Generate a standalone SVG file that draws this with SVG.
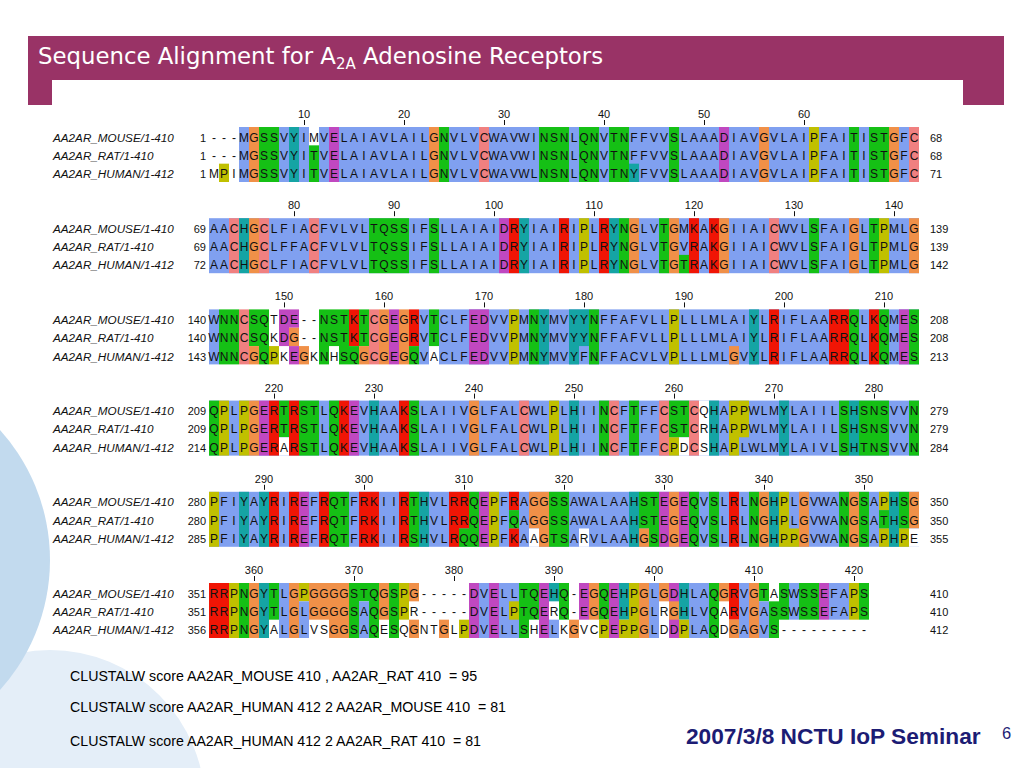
<svg xmlns="http://www.w3.org/2000/svg" width="1024" height="768" viewBox="0 0 1024 768">
<style>
.B{fill:#80a0f0}.R{fill:#f01505}.M{fill:#c048c0}.G{fill:#15c015}.P{fill:#f08080}.O{fill:#f09048}.Y{fill:#c0c000}.C{fill:#15a4a4}.W{fill:#ffffff}
.seq{font-family:"Liberation Sans",Arial,sans-serif;font-size:12px;fill:#111;text-anchor:middle}
.lab{font-family:"Liberation Sans",Arial,sans-serif;font-size:11.7px;font-style:italic;fill:#111}
.sn{font-family:"Liberation Sans",Arial,sans-serif;font-size:11px;fill:#111;text-anchor:end}
.en{font-family:"Liberation Sans",Arial,sans-serif;font-size:11px;fill:#111}
.rn{font-family:"Liberation Sans",Arial,sans-serif;font-size:11px;fill:#111;text-anchor:middle}
.tk{stroke:#111;stroke-width:1;fill:none}
.ft{font-family:"Liberation Sans",Arial,sans-serif;font-size:14.2px;fill:#000;white-space:pre}
</style>
<rect x="0" y="0" width="1024" height="768" fill="#ffffff"/>
<g id="decor">
<circle cx="50" cy="805" r="155" fill="#e4eef8"/>
<circle cx="-144" cy="560" r="194" fill="#c2daee"/>
</g>
<g id="header">
<rect x="28" y="36" width="976" height="69" fill="#993366"/>
<text x="38" y="64" font-family="DejaVu Sans, sans-serif" font-size="22.8" fill="#ffffff">Sequence Alignment for A<tspan font-size="15" dy="5">2A</tspan><tspan dy="-5"> Adenosine Receptors</tspan></text>
</g>
<rect id="panel" x="52" y="80" width="911" height="566" fill="#ffffff"/>

<g id="block1" transform="translate(0,127)">
<rect class="B" x="239" y="0" width="680" height="55"/>
<rect class="O" x="249" y="0" width="10" height="55"/><rect class="G" x="259" y="0" width="20" height="55"/><rect class="C" x="289" y="0" width="10" height="55"/><rect class="G" x="309" y="0" width="10" height="55"/><rect class="M" x="329" y="0" width="10" height="55"/><rect class="O" x="429" y="0" width="10" height="55"/><rect class="G" x="439" y="0" width="10" height="55"/><rect class="P" x="479" y="0" width="10" height="55"/><rect class="G" x="539" y="0" width="30" height="55"/><rect class="G" x="579" y="0" width="20" height="55"/><rect class="G" x="609" y="0" width="20" height="55"/><rect class="G" x="669" y="0" width="10" height="55"/><rect class="M" x="719" y="0" width="10" height="55"/><rect class="O" x="759" y="0" width="10" height="55"/><rect class="Y" x="809" y="0" width="10" height="55"/><rect class="G" x="849" y="0" width="10" height="55"/><rect class="G" x="869" y="0" width="20" height="55"/><rect class="O" x="889" y="0" width="10" height="55"/><rect class="P" x="909" y="0" width="10" height="55"/>
<rect class="W" x="309" y="0" width="10" height="18.33"/><rect class="Y" x="219" y="36.67" width="10" height="18.33"/><rect class="C" x="629" y="36.67" width="10" height="18.33"/>
<path class="tk" d="M304.5 -7v5M404.5 -7v5M504.5 -7v5M604.5 -7v5M704.5 -7v5M804.5 -7v5"/>
<text class="rn" y="-9"><tspan x="304">10</tspan><tspan x="404">20</tspan><tspan x="504">30</tspan><tspan x="604">40</tspan><tspan x="704">50</tspan><tspan x="804">60</tspan></text>
<text class="lab" x="53" y="14.5">AA2AR_MOUSE/1-410</text><text class="lab" x="53" y="32.8">AA2AR_RAT/1-410</text><text class="lab" x="53" y="51.2">AA2AR_HUMAN/1-412</text>
<text class="sn" x="206" y="14.5">1</text><text class="sn" x="206" y="32.8">1</text><text class="sn" x="206" y="51.2">1</text>
<text class="en" x="930" y="14.5">68</text><text class="en" x="930" y="32.8">68</text><text class="en" x="930" y="51.2">71</text>
<text class="seq" y="14.5" x="214 224 234 244 254 264 274 284 294 304 314 324 334 344 354 364 374 384 394 404 414 424 434 444 454 464 474 484 494 504 514 524 534 544 554 564 574 584 594 604 614 624 634 644 654 664 674 684 694 704 714 724 734 744 754 764 774 784 794 804 814 824 834 844 854 864 874 884 894 904 914">---MGSSVYIMVELAIAVLAILGNVLVCWAVWINSNLQNVTNFFVVSLAAADIAVGVLAIPFAITISTGFC</text>
<text class="seq" y="32.8" x="214 224 234 244 254 264 274 284 294 304 314 324 334 344 354 364 374 384 394 404 414 424 434 444 454 464 474 484 494 504 514 524 534 544 554 564 574 584 594 604 614 624 634 644 654 664 674 684 694 704 714 724 734 744 754 764 774 784 794 804 814 824 834 844 854 864 874 884 894 904 914">---MGSSVYITVELAIAVLAILGNVLVCWAVWINSNLQNVTNFFVVSLAAADIAVGVLAIPFAITISTGFC</text>
<text class="seq" y="51.2" x="214 224 234 244 254 264 274 284 294 304 314 324 334 344 354 364 374 384 394 404 414 424 434 444 454 464 474 484 494 504 514 524 534 544 554 564 574 584 594 604 614 624 634 644 654 664 674 684 694 704 714 724 734 744 754 764 774 784 794 804 814 824 834 844 854 864 874 884 894 904 914">MPIMGSSVYITVELAIAVLAILGNVLVCWAVWLNSNLQNVTNYFVVSLAAADIAVGVLAIPFAITISTGFC</text>
</g>

<g id="block2" transform="translate(0,218.2)">
<rect class="B" x="209" y="0" width="710" height="55"/>
<rect class="P" x="229" y="0" width="10" height="55"/><rect class="C" x="239" y="0" width="10" height="55"/><rect class="O" x="249" y="0" width="10" height="55"/><rect class="P" x="259" y="0" width="10" height="55"/><rect class="P" x="309" y="0" width="10" height="55"/><rect class="G" x="369" y="0" width="40" height="55"/><rect class="G" x="429" y="0" width="10" height="55"/><rect class="M" x="499" y="0" width="10" height="55"/><rect class="R" x="509" y="0" width="10" height="55"/><rect class="C" x="519" y="0" width="10" height="55"/><rect class="R" x="559" y="0" width="10" height="55"/><rect class="Y" x="579" y="0" width="10" height="55"/><rect class="R" x="599" y="0" width="10" height="55"/><rect class="C" x="609" y="0" width="10" height="55"/><rect class="G" x="619" y="0" width="10" height="55"/><rect class="O" x="629" y="0" width="10" height="55"/><rect class="G" x="659" y="0" width="10" height="55"/><rect class="O" x="669" y="0" width="10" height="55"/><rect class="R" x="689" y="0" width="10" height="55"/><rect class="R" x="709" y="0" width="10" height="55"/><rect class="O" x="719" y="0" width="10" height="55"/><rect class="P" x="769" y="0" width="10" height="55"/><rect class="G" x="809" y="0" width="10" height="55"/><rect class="O" x="849" y="0" width="10" height="55"/><rect class="G" x="869" y="0" width="10" height="55"/><rect class="Y" x="879" y="0" width="10" height="55"/><rect class="O" x="909" y="0" width="10" height="55"/>
<rect class="G" x="679" y="36.67" width="10" height="18.33"/>
<path class="tk" d="M294.5 -7v5M394.5 -7v5M494.5 -7v5M594.5 -7v5M694.5 -7v5M794.5 -7v5M894.5 -7v5"/>
<text class="rn" y="-9"><tspan x="294">80</tspan><tspan x="394">90</tspan><tspan x="494">100</tspan><tspan x="594">110</tspan><tspan x="694">120</tspan><tspan x="794">130</tspan><tspan x="894">140</tspan></text>
<text class="lab" x="53" y="14.5">AA2AR_MOUSE/1-410</text><text class="lab" x="53" y="32.8">AA2AR_RAT/1-410</text><text class="lab" x="53" y="51.2">AA2AR_HUMAN/1-412</text>
<text class="sn" x="206" y="14.5">69</text><text class="sn" x="206" y="32.8">69</text><text class="sn" x="206" y="51.2">72</text>
<text class="en" x="930" y="14.5">139</text><text class="en" x="930" y="32.8">139</text><text class="en" x="930" y="51.2">142</text>
<text class="seq" y="14.5" x="214 224 234 244 254 264 274 284 294 304 314 324 334 344 354 364 374 384 394 404 414 424 434 444 454 464 474 484 494 504 514 524 534 544 554 564 574 584 594 604 614 624 634 644 654 664 674 684 694 704 714 724 734 744 754 764 774 784 794 804 814 824 834 844 854 864 874 884 894 904 914">AACHGCLFIACFVLVLTQSSIFSLLAIAIDRYIAIRIPLRYNGLVTGMKAKGIIAICWVLSFAIGLTPMLG</text>
<text class="seq" y="32.8" x="214 224 234 244 254 264 274 284 294 304 314 324 334 344 354 364 374 384 394 404 414 424 434 444 454 464 474 484 494 504 514 524 534 544 554 564 574 584 594 604 614 624 634 644 654 664 674 684 694 704 714 724 734 744 754 764 774 784 794 804 814 824 834 844 854 864 874 884 894 904 914">AACHGCLFFACFVLVLTQSSIFSLLAIAIDRYIAIRIPLRYNGLVTGVRAKGIIAICWVLSFAIGLTPMLG</text>
<text class="seq" y="51.2" x="214 224 234 244 254 264 274 284 294 304 314 324 334 344 354 364 374 384 394 404 414 424 434 444 454 464 474 484 494 504 514 524 534 544 554 564 574 584 594 604 614 624 634 644 654 664 674 684 694 704 714 724 734 744 754 764 774 784 794 804 814 824 834 844 854 864 874 884 894 904 914">AACHGCLFIACFVLVLTQSSIFSLLAIAIDRYIAIRIPLRYNGLVTGTRAKGIIAICWVLSFAIGLTPMLG</text>
</g>

<g id="block3" transform="translate(0,309.4)">
<rect class="B" x="209" y="0" width="10" height="55"/><rect class="B" x="419" y="0" width="10" height="55"/><rect class="B" x="439" y="0" width="480" height="55"/>
<rect class="G" x="219" y="0" width="20" height="55"/><rect class="P" x="239" y="0" width="10" height="55"/><rect class="G" x="259" y="0" width="10" height="55"/><rect class="G" x="319" y="0" width="10" height="55"/><rect class="G" x="339" y="0" width="10" height="55"/><rect class="P" x="369" y="0" width="10" height="55"/><rect class="O" x="379" y="0" width="10" height="55"/><rect class="M" x="389" y="0" width="10" height="55"/><rect class="O" x="399" y="0" width="10" height="55"/><rect class="M" x="469" y="0" width="20" height="55"/><rect class="Y" x="509" y="0" width="10" height="55"/><rect class="G" x="529" y="0" width="10" height="55"/><rect class="C" x="539" y="0" width="10" height="55"/><rect class="C" x="569" y="0" width="10" height="55"/><rect class="G" x="589" y="0" width="10" height="55"/><rect class="Y" x="669" y="0" width="10" height="55"/><rect class="C" x="749" y="0" width="10" height="55"/><rect class="R" x="769" y="0" width="10" height="55"/><rect class="R" x="829" y="0" width="20" height="55"/><rect class="G" x="849" y="0" width="10" height="55"/><rect class="R" x="869" y="0" width="10" height="55"/><rect class="G" x="879" y="0" width="10" height="55"/><rect class="M" x="899" y="0" width="10" height="55"/><rect class="G" x="909" y="0" width="10" height="55"/>
<rect class="G" x="249" y="0" width="10" height="36.67"/><rect class="O" x="249" y="36.67" width="10" height="18.33"/>
<rect class="Y" x="269" y="36.67" width="10" height="18.33"/>
<rect class="M" x="279" y="0" width="10" height="36.67"/>
<rect class="M" x="289" y="0" width="10" height="18.33"/><rect class="O" x="289" y="18.33" width="10" height="18.34"/><rect class="M" x="289" y="36.67" width="10" height="18.33"/>
<rect class="O" x="299" y="36.67" width="10" height="18.33"/>
<rect class="G" x="329" y="0" width="10" height="36.67"/>
<rect class="R" x="349" y="0" width="10" height="36.67"/><rect class="G" x="349" y="36.67" width="10" height="18.33"/>
<rect class="G" x="359" y="0" width="10" height="36.67"/><rect class="O" x="359" y="36.67" width="10" height="18.33"/>
<rect class="R" x="409" y="0" width="10" height="36.67"/><rect class="G" x="409" y="36.67" width="10" height="18.33"/>
<rect class="G" x="429" y="0" width="10" height="36.67"/>
<rect class="C" x="579" y="0" width="10" height="36.67"/>
<rect class="O" x="729" y="36.67" width="10" height="18.33"/>
<path class="tk" d="M284.5 -7v5M384.5 -7v5M484.5 -7v5M584.5 -7v5M684.5 -7v5M784.5 -7v5M884.5 -7v5"/>
<text class="rn" y="-9"><tspan x="284">150</tspan><tspan x="384">160</tspan><tspan x="484">170</tspan><tspan x="584">180</tspan><tspan x="684">190</tspan><tspan x="784">200</tspan><tspan x="884">210</tspan></text>
<text class="lab" x="53" y="14.5">AA2AR_MOUSE/1-410</text><text class="lab" x="53" y="32.8">AA2AR_RAT/1-410</text><text class="lab" x="53" y="51.2">AA2AR_HUMAN/1-412</text>
<text class="sn" x="206" y="14.5">140</text><text class="sn" x="206" y="32.8">140</text><text class="sn" x="206" y="51.2">143</text>
<text class="en" x="930" y="14.5">208</text><text class="en" x="930" y="32.8">208</text><text class="en" x="930" y="51.2">213</text>
<text class="seq" y="14.5" x="214 224 234 244 254 264 274 284 294 304 314 324 334 344 354 364 374 384 394 404 414 424 434 444 454 464 474 484 494 504 514 524 534 544 554 564 574 584 594 604 614 624 634 644 654 664 674 684 694 704 714 724 734 744 754 764 774 784 794 804 814 824 834 844 854 864 874 884 894 904 914">WNNCSQTDE--NSTKTCGEGRVTCLFEDVVPMNYMVYYNFFAFVLLPLLLMLAIYLRIFLAARRQLKQMES</text>
<text class="seq" y="32.8" x="214 224 234 244 254 264 274 284 294 304 314 324 334 344 354 364 374 384 394 404 414 424 434 444 454 464 474 484 494 504 514 524 534 544 554 564 574 584 594 604 614 624 634 644 654 664 674 684 694 704 714 724 734 744 754 764 774 784 794 804 814 824 834 844 854 864 874 884 894 904 914">WNNCSQKDG--NSTKTCGEGRVTCLFEDVVPMNYMVYYNFFAFVLLPLLLMLAIYLRIFLAARRQLKQMES</text>
<text class="seq" y="51.2" x="214 224 234 244 254 264 274 284 294 304 314 324 334 344 354 364 374 384 394 404 414 424 434 444 454 464 474 484 494 504 514 524 534 544 554 564 574 584 594 604 614 624 634 644 654 664 674 684 694 704 714 724 734 744 754 764 774 784 794 804 814 824 834 844 854 864 874 884 894 904 914">WNNCGQPKEGKNHSQGCGEGQVACLFEDVVPMNYMVYFNFFACVLVPLLLMLGVYLRIFLAARRQLKQMES</text>
</g>

<g id="block4" transform="translate(0,400.6)">
<rect class="B" x="209" y="0" width="710" height="55"/>
<rect class="G" x="209" y="0" width="10" height="55"/><rect class="Y" x="219" y="0" width="10" height="55"/><rect class="Y" x="239" y="0" width="10" height="55"/><rect class="O" x="249" y="0" width="10" height="55"/><rect class="M" x="259" y="0" width="10" height="55"/><rect class="R" x="269" y="0" width="10" height="55"/><rect class="R" x="289" y="0" width="10" height="55"/><rect class="G" x="299" y="0" width="20" height="55"/><rect class="G" x="329" y="0" width="10" height="55"/><rect class="R" x="339" y="0" width="10" height="55"/><rect class="M" x="349" y="0" width="10" height="55"/><rect class="C" x="369" y="0" width="10" height="55"/><rect class="R" x="399" y="0" width="10" height="55"/><rect class="G" x="409" y="0" width="10" height="55"/><rect class="O" x="469" y="0" width="10" height="55"/><rect class="P" x="519" y="0" width="10" height="55"/><rect class="Y" x="549" y="0" width="10" height="55"/><rect class="C" x="569" y="0" width="10" height="55"/><rect class="G" x="599" y="0" width="10" height="55"/><rect class="P" x="609" y="0" width="10" height="55"/><rect class="G" x="629" y="0" width="10" height="55"/><rect class="P" x="659" y="0" width="10" height="55"/><rect class="P" x="689" y="0" width="10" height="55"/><rect class="W" x="699" y="0" width="10" height="55"/><rect class="C" x="709" y="0" width="10" height="55"/><rect class="Y" x="729" y="0" width="10" height="55"/><rect class="C" x="779" y="0" width="10" height="55"/><rect class="G" x="839" y="0" width="10" height="55"/><rect class="C" x="849" y="0" width="10" height="55"/><rect class="G" x="859" y="0" width="30" height="55"/><rect class="G" x="909" y="0" width="10" height="55"/>
<rect class="G" x="279" y="0" width="10" height="36.67"/><rect class="W" x="279" y="36.67" width="10" height="18.33"/>
<rect class="G" x="669" y="0" width="10" height="36.67"/><rect class="Y" x="669" y="36.67" width="10" height="18.33"/>
<rect class="G" x="679" y="0" width="10" height="36.67"/><rect class="W" x="679" y="36.67" width="10" height="18.33"/>
<rect class="Y" x="739" y="0" width="10" height="36.67"/>
<path class="tk" d="M274.5 -7v5M374.5 -7v5M474.5 -7v5M574.5 -7v5M674.5 -7v5M774.5 -7v5M874.5 -7v5"/>
<text class="rn" y="-9"><tspan x="274">220</tspan><tspan x="374">230</tspan><tspan x="474">240</tspan><tspan x="574">250</tspan><tspan x="674">260</tspan><tspan x="774">270</tspan><tspan x="874">280</tspan></text>
<text class="lab" x="53" y="14.5">AA2AR_MOUSE/1-410</text><text class="lab" x="53" y="32.8">AA2AR_RAT/1-410</text><text class="lab" x="53" y="51.2">AA2AR_HUMAN/1-412</text>
<text class="sn" x="206" y="14.5">209</text><text class="sn" x="206" y="32.8">209</text><text class="sn" x="206" y="51.2">214</text>
<text class="en" x="930" y="14.5">279</text><text class="en" x="930" y="32.8">279</text><text class="en" x="930" y="51.2">284</text>
<text class="seq" y="14.5" x="214 224 234 244 254 264 274 284 294 304 314 324 334 344 354 364 374 384 394 404 414 424 434 444 454 464 474 484 494 504 514 524 534 544 554 564 574 584 594 604 614 624 634 644 654 664 674 684 694 704 714 724 734 744 754 764 774 784 794 804 814 824 834 844 854 864 874 884 894 904 914">QPLPGERTRSTLQKEVHAAKSLAIIVGLFALCWLPLHIINCFTFFCSTCQHAPPWLMYLAIILSHSNSVVN</text>
<text class="seq" y="32.8" x="214 224 234 244 254 264 274 284 294 304 314 324 334 344 354 364 374 384 394 404 414 424 434 444 454 464 474 484 494 504 514 524 534 544 554 564 574 584 594 604 614 624 634 644 654 664 674 684 694 704 714 724 734 744 754 764 774 784 794 804 814 824 834 844 854 864 874 884 894 904 914">QPLPGERTRSTLQKEVHAAKSLAIIVGLFALCWLPLHIINCFTFFCSTCRHAPPWLMYLAIILSHSNSVVN</text>
<text class="seq" y="51.2" x="214 224 234 244 254 264 274 284 294 304 314 324 334 344 354 364 374 384 394 404 414 424 434 444 454 464 474 484 494 504 514 524 534 544 554 564 574 584 594 604 614 624 634 644 654 664 674 684 694 704 714 724 734 744 754 764 774 784 794 804 814 824 834 844 854 864 874 884 894 904 914">QPLPGERARSTLQKEVHAAKSLAIIVGLFALCWLPLHIINCFTFFCPDCSHAPLWLMYLAIVLSHTNSVVN</text>
</g>

<g id="block5" transform="translate(0,491.8)">
<rect class="B" x="209" y="0" width="710" height="55"/>
<rect class="Y" x="209" y="0" width="10" height="55"/><rect class="C" x="239" y="0" width="10" height="55"/><rect class="C" x="259" y="0" width="10" height="55"/><rect class="R" x="269" y="0" width="10" height="55"/><rect class="R" x="289" y="0" width="10" height="55"/><rect class="M" x="299" y="0" width="10" height="55"/><rect class="R" x="319" y="0" width="10" height="55"/><rect class="G" x="329" y="0" width="20" height="55"/><rect class="R" x="359" y="0" width="20" height="55"/><rect class="R" x="399" y="0" width="10" height="55"/><rect class="G" x="409" y="0" width="10" height="55"/><rect class="C" x="419" y="0" width="10" height="55"/><rect class="R" x="449" y="0" width="10" height="55"/><rect class="G" x="469" y="0" width="10" height="55"/><rect class="M" x="479" y="0" width="10" height="55"/><rect class="Y" x="489" y="0" width="10" height="55"/><rect class="O" x="539" y="0" width="10" height="55"/><rect class="G" x="549" y="0" width="20" height="55"/><rect class="C" x="629" y="0" width="10" height="55"/><rect class="G" x="649" y="0" width="10" height="55"/><rect class="M" x="659" y="0" width="10" height="55"/><rect class="O" x="669" y="0" width="10" height="55"/><rect class="M" x="679" y="0" width="10" height="55"/><rect class="G" x="689" y="0" width="10" height="55"/><rect class="G" x="709" y="0" width="10" height="55"/><rect class="R" x="729" y="0" width="10" height="55"/><rect class="G" x="749" y="0" width="10" height="55"/><rect class="O" x="759" y="0" width="10" height="55"/><rect class="C" x="769" y="0" width="10" height="55"/><rect class="Y" x="779" y="0" width="10" height="55"/><rect class="O" x="799" y="0" width="10" height="55"/><rect class="G" x="839" y="0" width="10" height="55"/><rect class="O" x="849" y="0" width="10" height="55"/><rect class="G" x="859" y="0" width="10" height="55"/><rect class="C" x="889" y="0" width="10" height="55"/>
<rect class="R" x="459" y="0" width="10" height="36.67"/><rect class="G" x="459" y="36.67" width="10" height="18.33"/>
<rect class="R" x="509" y="0" width="10" height="18.33"/><rect class="G" x="509" y="18.33" width="10" height="18.34"/><rect class="R" x="509" y="36.67" width="10" height="18.33"/>
<rect class="O" x="529" y="0" width="10" height="36.67"/><rect class="W" x="529" y="36.67" width="10" height="18.33"/>
<rect class="W" x="579" y="36.67" width="10" height="18.33"/>
<rect class="G" x="639" y="0" width="10" height="36.67"/><rect class="O" x="639" y="36.67" width="10" height="18.33"/>
<rect class="Y" x="789" y="36.67" width="10" height="18.33"/>
<rect class="Y" x="879" y="0" width="10" height="18.33"/><rect class="G" x="879" y="18.33" width="10" height="18.34"/><rect class="Y" x="879" y="36.67" width="10" height="18.33"/>
<rect class="G" x="899" y="0" width="10" height="36.67"/><rect class="Y" x="899" y="36.67" width="10" height="18.33"/>
<rect class="O" x="909" y="0" width="10" height="36.67"/><rect class="W" x="909" y="36.67" width="10" height="18.33"/>
<path class="tk" d="M264.5 -7v5M364.5 -7v5M464.5 -7v5M564.5 -7v5M664.5 -7v5M764.5 -7v5M864.5 -7v5"/>
<text class="rn" y="-9"><tspan x="264">290</tspan><tspan x="364">300</tspan><tspan x="464">310</tspan><tspan x="564">320</tspan><tspan x="664">330</tspan><tspan x="764">340</tspan><tspan x="864">350</tspan></text>
<text class="lab" x="53" y="14.5">AA2AR_MOUSE/1-410</text><text class="lab" x="53" y="32.8">AA2AR_RAT/1-410</text><text class="lab" x="53" y="51.2">AA2AR_HUMAN/1-412</text>
<text class="sn" x="206" y="14.5">280</text><text class="sn" x="206" y="32.8">280</text><text class="sn" x="206" y="51.2">285</text>
<text class="en" x="930" y="14.5">350</text><text class="en" x="930" y="32.8">350</text><text class="en" x="930" y="51.2">355</text>
<text class="seq" y="14.5" x="214 224 234 244 254 264 274 284 294 304 314 324 334 344 354 364 374 384 394 404 414 424 434 444 454 464 474 484 494 504 514 524 534 544 554 564 574 584 594 604 614 624 634 644 654 664 674 684 694 704 714 724 734 744 754 764 774 784 794 804 814 824 834 844 854 864 874 884 894 904 914">PFIYAYRIREFRQTFRKIIRTHVLRRQEPFRAGGSSAWALAAHSTEGEQVSLRLNGHPLGVWANGSAPHSG</text>
<text class="seq" y="32.8" x="214 224 234 244 254 264 274 284 294 304 314 324 334 344 354 364 374 384 394 404 414 424 434 444 454 464 474 484 494 504 514 524 534 544 554 564 574 584 594 604 614 624 634 644 654 664 674 684 694 704 714 724 734 744 754 764 774 784 794 804 814 824 834 844 854 864 874 884 894 904 914">PFIYAYRIREFRQTFRKIIRTHVLRRQEPFQAGGSSAWALAAHSTEGEQVSLRLNGHPLGVWANGSATHSG</text>
<text class="seq" y="51.2" x="214 224 234 244 254 264 274 284 294 304 314 324 334 344 354 364 374 384 394 404 414 424 434 444 454 464 474 484 494 504 514 524 534 544 554 564 574 584 594 604 614 624 634 644 654 664 674 684 694 704 714 724 734 744 754 764 774 784 794 804 814 824 834 844 854 864 874 884 894 904 914">PFIYAYRIREFRQTFRKIIRSHVLRQQEPFKAAGTSARVLAAHGSDGEQVSLRLNGHPPGVWANGSAPHPE</text>
</g>

<g id="block6" transform="translate(0,583)">
<rect class="R" x="209" y="0" width="20" height="55"/><rect class="Y" x="229" y="0" width="10" height="55"/><rect class="G" x="239" y="0" width="10" height="55"/><rect class="O" x="249" y="0" width="10" height="55"/><rect class="C" x="259" y="0" width="10" height="55"/><rect class="G" x="269" y="0" width="10" height="36.67"/><rect class="B" x="279" y="0" width="10" height="55"/><rect class="O" x="289" y="0" width="10" height="55"/>
<rect class="Y" x="299" y="0" width="10" height="18.33"/><rect class="B" x="299" y="18.33" width="10" height="36.67"/>
<rect class="O" x="309" y="0" width="20" height="36.67"/><rect class="O" x="329" y="0" width="20" height="55"/><rect class="G" x="349" y="0" width="10" height="55"/>
<rect class="G" x="359" y="0" width="10" height="18.33"/><rect class="B" x="359" y="18.33" width="10" height="36.67"/>
<rect class="G" x="369" y="0" width="10" height="55"/><rect class="O" x="379" y="0" width="10" height="36.67"/><rect class="G" x="389" y="0" width="10" height="55"/><rect class="Y" x="399" y="0" width="10" height="36.67"/>
<rect class="O" x="409" y="0" width="10" height="18.33"/><rect class="O" x="409" y="36.67" width="10" height="18.33"/>
<rect class="O" x="439" y="36.67" width="10" height="18.33"/><rect class="Y" x="459" y="36.67" width="10" height="18.33"/>
<rect class="M" x="469" y="0" width="10" height="55"/><rect class="B" x="479" y="0" width="10" height="55"/><rect class="M" x="489" y="0" width="10" height="55"/><rect class="B" x="499" y="0" width="20" height="55"/><rect class="Y" x="509" y="18.33" width="10" height="18.34"/>
<rect class="G" x="519" y="0" width="10" height="55"/><rect class="G" x="529" y="0" width="10" height="36.67"/><rect class="M" x="539" y="0" width="10" height="55"/>
<rect class="C" x="549" y="0" width="10" height="18.33"/><rect class="B" x="549" y="36.67" width="10" height="18.33"/>
<rect class="G" x="559" y="0" width="10" height="36.67"/><rect class="O" x="569" y="36.67" width="10" height="18.33"/>
<rect class="M" x="579" y="0" width="10" height="36.67"/><rect class="O" x="589" y="0" width="10" height="36.67"/>
<rect class="G" x="599" y="0" width="10" height="36.67"/><rect class="Y" x="599" y="36.67" width="10" height="18.33"/>
<rect class="M" x="609" y="0" width="10" height="55"/>
<rect class="C" x="619" y="0" width="10" height="36.67"/><rect class="Y" x="619" y="36.67" width="10" height="18.33"/>
<rect class="Y" x="629" y="0" width="10" height="55"/><rect class="O" x="639" y="0" width="10" height="55"/><rect class="B" x="649" y="0" width="10" height="55"/>
<rect class="O" x="659" y="0" width="10" height="18.33"/>
<rect class="M" x="669" y="0" width="10" height="55"/><rect class="O" x="669" y="18.33" width="10" height="18.34"/>
<rect class="C" x="679" y="0" width="10" height="36.67"/><rect class="Y" x="679" y="36.67" width="10" height="18.33"/>
<rect class="B" x="689" y="0" width="20" height="55"/><rect class="G" x="709" y="0" width="10" height="55"/>
<rect class="O" x="719" y="0" width="10" height="18.33"/>
<rect class="R" x="729" y="0" width="10" height="36.67"/><rect class="O" x="729" y="36.67" width="10" height="18.33"/>
<rect class="B" x="739" y="0" width="10" height="55"/><rect class="O" x="749" y="0" width="10" height="55"/>
<rect class="G" x="759" y="0" width="10" height="18.33"/><rect class="B" x="759" y="18.33" width="10" height="36.67"/>
<rect class="G" x="769" y="18.33" width="10" height="36.67"/>
<rect class="G" x="779" y="0" width="10" height="36.67"/><rect class="B" x="789" y="0" width="10" height="36.67"/><rect class="G" x="799" y="0" width="20" height="36.67"/><rect class="M" x="819" y="0" width="10" height="36.67"/><rect class="B" x="829" y="0" width="20" height="36.67"/><rect class="Y" x="849" y="0" width="10" height="36.67"/><rect class="G" x="859" y="0" width="10" height="36.67"/>
<path class="tk" d="M254.5 -7v5M354.5 -7v5M454.5 -7v5M554.5 -7v5M654.5 -7v5M754.5 -7v5M854.5 -7v5"/>
<text class="rn" y="-9"><tspan x="254">360</tspan><tspan x="354">370</tspan><tspan x="454">380</tspan><tspan x="554">390</tspan><tspan x="654">400</tspan><tspan x="754">410</tspan><tspan x="854">420</tspan></text>
<text class="lab" x="53" y="14.5">AA2AR_MOUSE/1-410</text><text class="lab" x="53" y="32.8">AA2AR_RAT/1-410</text><text class="lab" x="53" y="51.2">AA2AR_HUMAN/1-412</text>
<text class="sn" x="206" y="14.5">351</text><text class="sn" x="206" y="32.8">351</text><text class="sn" x="206" y="51.2">356</text>
<text class="en" x="930" y="14.5">410</text><text class="en" x="930" y="32.8">410</text><text class="en" x="930" y="51.2">412</text>
<text class="seq" y="14.5" x="214 224 234 244 254 264 274 284 294 304 314 324 334 344 354 364 374 384 394 404 414 424 434 444 454 464 474 484 494 504 514 524 534 544 554 564 574 584 594 604 614 624 634 644 654 664 674 684 694 704 714 724 734 744 754 764 774 784 794 804 814 824 834 844 854 864">RRPNGYTLGPGGGGSTQGSPG-----DVELLTQEHQ-EGQEHPGLGDHLAQGRVGTASWSSEFAPS</text>
<text class="seq" y="32.8" x="214 224 234 244 254 264 274 284 294 304 314 324 334 344 354 364 374 384 394 404 414 424 434 444 454 464 474 484 494 504 514 524 534 544 554 564 574 584 594 604 614 624 634 644 654 664 674 684 694 704 714 724 734 744 754 764 774 784 794 804 814 824 834 844 854 864">RRPNGYTLGLGGGGSAQGSPR-----DVELPTQERQ-EGQEHPGLRGHLVQARVGASSWSSEFAPS</text>
<text class="seq" y="51.2" x="214 224 234 244 254 264 274 284 294 304 314 324 334 344 354 364 374 384 394 404 414 424 434 444 454 464 474 484 494 504 514 524 534 544 554 564 574 584 594 604 614 624 634 644 654 664 674 684 694 704 714 724 734 744 754 764 774 784 794 804 814 824 834 844 854 864">RRPNGYALGLVSGGSAQESQGNTGLPDVELLSHELKGVCPEPPGLDDPLAQDGAGVS---------</text>
</g>

<g id="footer">
<text class="ft" x="70" y="681" xml:space="preserve">CLUSTALW score AA2AR_MOUSE 410 , AA2AR_RAT 410  = 95</text>
<text class="ft" x="70" y="712" xml:space="preserve">CLUSTALW score AA2AR_HUMAN 412 2 AA2AR_MOUSE 410  = 81</text>
<text class="ft" x="70" y="746" xml:space="preserve">CLUSTALW score AA2AR_HUMAN 412 2 AA2AR_RAT 410  = 81</text>
<text x="686" y="744" font-family="Liberation Sans, Arial, sans-serif" font-size="22.7" font-weight="bold" fill="#1c1c74">2007/3/8 NCTU IoP Seminar</text>
<text x="1002" y="739" font-family="Liberation Sans, Arial, sans-serif" font-size="16.5" fill="#1c1c74">6</text>
</g>
</svg>
